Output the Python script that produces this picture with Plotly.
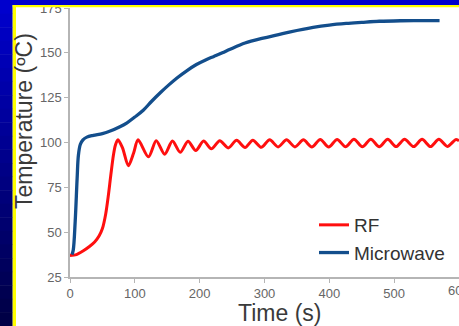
import plotly.graph_objects as go

# ---- data ----
rf_time = [0, 10, 20, 30, 38, 45, 50, 55, 59, 63, 67, 70, 74, 81, 90, 98, 105,
           121, 133, 146, 158, 170, 182, 194, 206, 218, 231, 244, 257, 270, 282,
           295, 308, 321, 334, 347, 360, 373, 386, 399, 412, 425, 438, 451, 464,
           477, 490, 503, 516, 530, 543, 556, 569, 582, 595, 600]
rf_temp = [37, 37.5, 39.5, 42, 44.5, 48, 52, 60, 70, 82, 93, 98.5, 101.5, 97, 87, 94, 101.5,
           92, 101, 93.5, 100.8, 94.5, 100.7, 95.5, 100.8, 96.5, 101, 97, 101.2, 97.2, 101.3,
           97.3, 101.5, 97.5, 101.5, 97.5, 101.5, 97.5, 101.7, 97.5, 101.7, 97.6, 101.8, 97.6, 101.8,
           97.6, 101.8, 97.7, 101.8, 97.7, 101.8, 97.7, 101.8, 97.8, 101.6, 101]

mw_time = [3, 5, 8, 11, 13, 16, 20, 26, 36, 50, 62, 77, 88, 100, 113, 126, 140,
           152, 165, 180, 195, 210, 222, 235, 247, 270, 298, 320, 340, 375, 400,
           426, 450, 477, 510, 540, 570]
mw_temp = [37.5, 40, 56, 80, 93, 99, 101.5, 103, 104, 105, 106.4, 108.8, 111, 114.2, 118, 123, 128,
           132, 136, 140, 143.5, 146.2, 148, 150, 152, 155.5, 158.2, 160, 161.7, 164.2, 165.5,
           166.4, 167, 167.6, 167.9, 168, 168]

x_ticks = [0, 100, 200, 300, 400, 500, 600]
y_ticks = [25, 50, 75, 100, 125, 150, 175]

series_names = ["RF", "Microwave"]
series_colors = ["#ff0f0f", "#134e8c"]

# ---- layout helpers (pixel -> paper) ----
W, H = 459, 326
ML, MR, MT, MB = 70, 0, 8, 49
PW, PH = W - ML - MR, H - MT - MB


def px2x(px):
    return (px - ML) / PW


def py2y(py):
    return (H - MB - py) / PH


fig = go.Figure()
fig.add_trace(go.Scatter(x=rf_time, y=rf_temp, mode="lines", name=series_names[0],
                         line=dict(color=series_colors[0], width=3, shape="spline", smoothing=0.8)))
fig.add_trace(go.Scatter(x=mw_time, y=mw_temp, mode="lines", name=series_names[1],
                         line=dict(color=series_colors[1], width=3.3, shape="spline", smoothing=1.0)))

shapes = []
# left gradient strip
n = 24
for i in range(n):
    f = i / (n - 1)
    b = int(205 - f * (205 - 70))
    shapes.append(dict(type="rect", xref="paper", yref="paper", layer="above",
                       x0=px2x(0), x1=px2x(12.7), y0=py2y(H * i / n), y1=py2y(H * (i + 1) / n + 0.5),
                       fillcolor=f"rgb(0,0,{b})", line=dict(width=0)))
# top blue strip
shapes.append(dict(type="rect", xref="paper", yref="paper", layer="above",
                   x0=px2x(0), x1=px2x(W + 2), y0=py2y(0), y1=py2y(5),
                   fillcolor="rgb(0,0,205)", line=dict(width=0)))
# yellow lines
shapes.append(dict(type="rect", xref="paper", yref="paper", layer="above",
                   x0=px2x(12.7), x1=px2x(16), y0=py2y(5), y1=py2y(H + 2),
                   fillcolor="#ffff00", line=dict(width=0)))
shapes.append(dict(type="rect", xref="paper", yref="paper", layer="above",
                   x0=px2x(12.7), x1=px2x(W + 2), y0=py2y(5), y1=py2y(7.3),
                   fillcolor="#ffff00", line=dict(width=0)))

font_family = "Liberation Sans, Arial, sans-serif"
tick_font = dict(family=font_family, size=13, color="#666666")

annotations = [
    dict(text="Temperature (ºC)", xref="paper", yref="paper", x=px2x(24), y=py2y(121),
         xanchor="center", yanchor="middle", textangle=-90, showarrow=False,
         font=dict(family=font_family, size=23, color="#3a3a3a")),
    dict(text="Time (s)", xref="paper", yref="paper", x=px2x(279), y=py2y(313),
         xanchor="center", yanchor="middle", showarrow=False,
         font=dict(family=font_family, size=23, color="#3a3a3a")),
    # last x tick label (cut by the right edge, as in the reference)
    dict(text=str(x_ticks[-1]), xref="x", yref="paper", x=x_ticks[-1], y=py2y(290),
         xanchor="center", yanchor="middle", showarrow=False, font=tick_font),
]

axis_common = dict(showgrid=False, zeroline=False, showline=True, linecolor="#b5b5b5", linewidth=1.5,
                   ticks="outside", ticklen=4, tickwidth=1, tickcolor="#b5b5b5", automargin=False,
                   tickfont=tick_font)

fig.update_layout(
    width=W, height=H,
    margin=dict(l=ML, r=MR, t=MT, b=MB, pad=0, autoexpand=False),
    paper_bgcolor="white", plot_bgcolor="white",
    xaxis=dict(range=[0, 600], tickvals=x_ticks, ticktext=[str(v) for v in x_ticks], **axis_common),
    yaxis=dict(range=[25, 175], tickvals=y_ticks, ticktext=[str(v) for v in y_ticks], **axis_common),
    showlegend=True,
    legend=dict(x=px2x(314), y=py2y(206), xanchor="left", yanchor="top",
                bgcolor="rgba(0,0,0,0)", font=dict(family=font_family, size=19, color="#333333"),
                itemwidth=30, tracegroupgap=0),
    shapes=shapes,
    annotations=annotations,
)

fig.write_html("out.html", config={"displayModeBar": False},
               post_script="document.body.style.margin='0px';document.body.style.overflow='hidden';")
